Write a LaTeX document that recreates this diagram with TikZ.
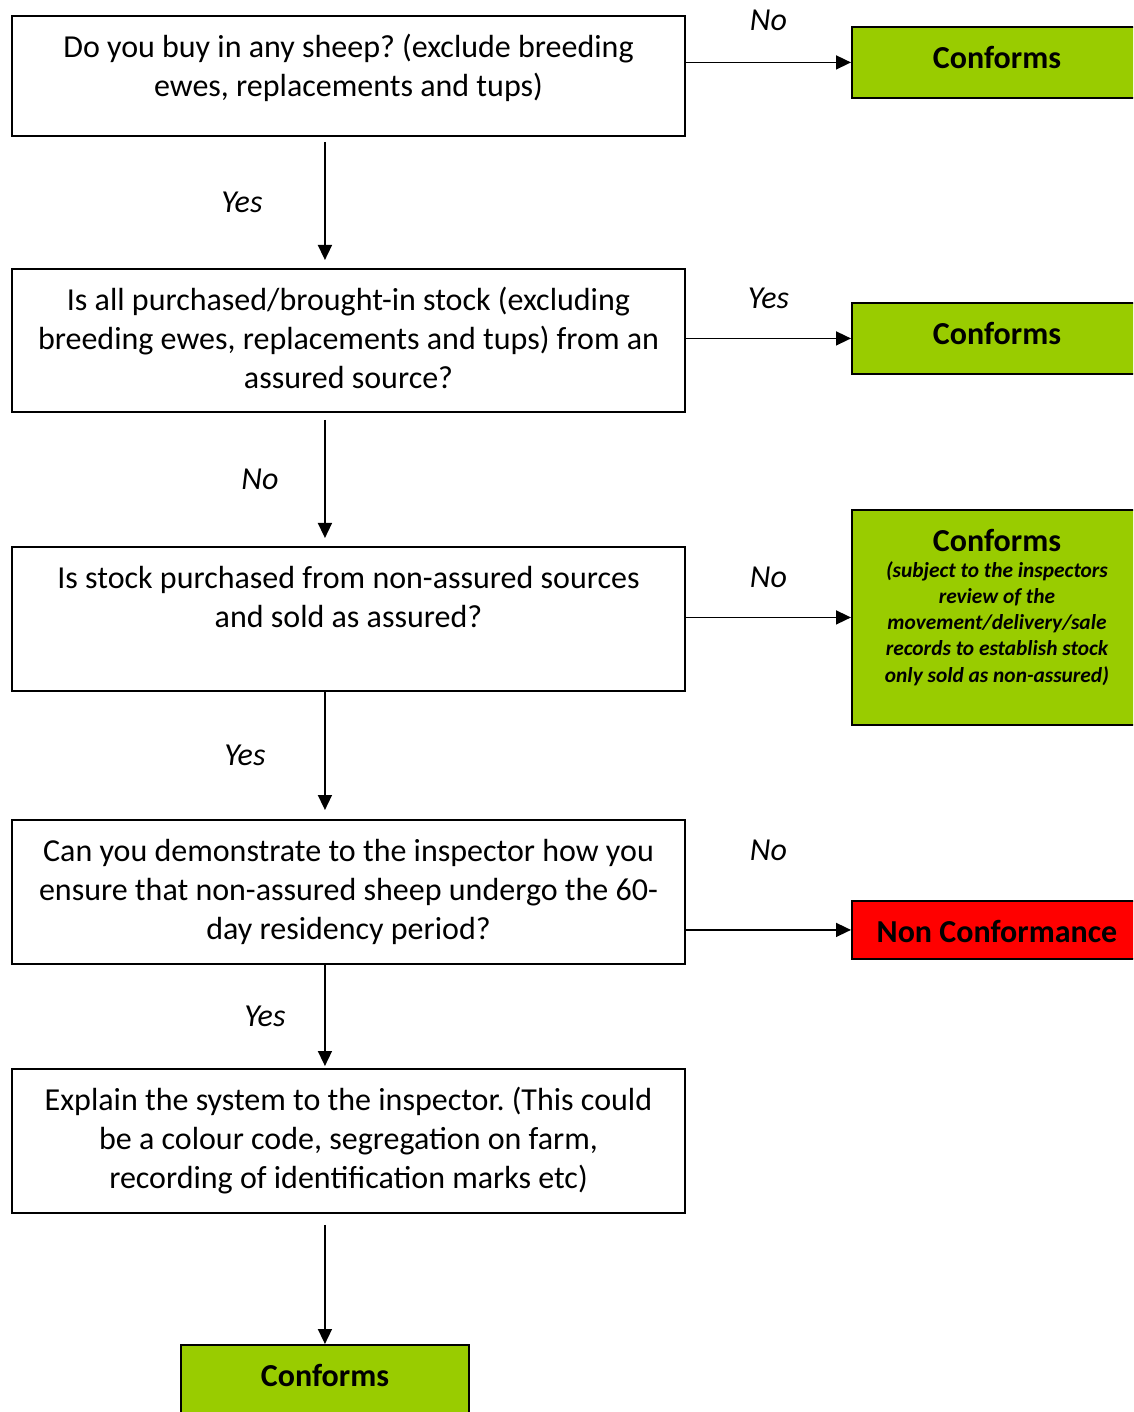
\documentclass[tikz,border=0pt]{standalone}
\usepackage{fontspec}
\setmainfont{Carlito}
\usetikzlibrary{positioning,arrows.meta}
\definecolor{okgreen}{RGB}{153,204,0}
\definecolor{ncred}{RGB}{255,0,0}
\newcommand{\boxfont}{\fontsize{22.76}{27.74}\selectfont\frenchspacing}
\newcommand{\notefont}{\fontsize{15.2}{18.5}\selectfont}

\begin{document}
\begin{tikzpicture}[x=0.025cm,y=-0.025cm,font=\boxfont,
	>={Triangle[length=0.375cm,width=0.35cm]},
	question/.style={draw,line width=1.3pt,anchor=north west,align=flush center,text width=16.425cm,
		inner xsep=0.2cm,inner ysep=0.2cm,text height=0.85cm},
	result/.style={draw,line width=1.3pt,fill=okgreen,anchor=north west,minimum width=7.25cm,
		inner ysep=0.2cm,text height=0.85cm,font=\boxfont\bfseries},
	answer/.style={font=\boxfont\itshape},
	flow/.style={line width=1.1pt}]
	\path[use as bounding box,clip] (0,0) rectangle (1133,1412);
	\node[question,text depth=1.75cm] (buy) at (11,15) {Do you buy in any sheep? (exclude breeding\\ ewes, replacements and tups)};
	\node[question,text depth=2.325cm] (assured) at (11,268) {Is all purchased/brought-in stock (excluding\\ breeding ewes, replacements and tups) from an\\ assured source?};
	\node[question,text depth=2.35cm] (nonassured) at (11,546) {Is stock purchased from non-assured sources\\ and sold as assured?};
	\node[question,text depth=2.35cm] (residency) at (11,819) {Can you demonstrate to the inspector how you\\ ensure that non-assured sheep undergo the 60-\\ day residency period?};
	\node[question,text depth=2.35cm] (explain) at (11,1068) {Explain the system to the inspector. (This could\\ be a colour code, segregation on farm,\\ recording of identification marks etc)};
	\node[result,text depth=0.525cm] (conf1) at (851,26) {Conforms};
	\node[result,text depth=0.525cm] (conf2) at (851,302) {Conforms};
	\node[result,text depth=4.125cm,text width=6.25cm,inner xsep=0.5cm,align=flush center] (conf3) at (851,509)
		{Conforms\\{\notefont\itshape (subject to the inspectors\\ review of the\\ movement/delivery/sale\\ records to establish stock\\ only sold as non-assured)\par}};
	\node[result,fill=ncred,text depth=0.2cm] (noconf) at (851,900) {Non Conformance};
	\node[result,text depth=0.525cm,minimum width=7.2cm] (conf5) at (180,1344) {Conforms};
	\path[->,flow]
	(buy.east |- conf1) edge node[answer,yshift=1.05cm] {No} (conf1)
	(assured.east |- conf2) edge node[answer,yshift=1cm] {Yes} (conf2)
	(nonassured.east |- conf3) edge node[answer,yshift=1cm] {No} (conf3)
	(residency.east |- noconf) edge node[answer,yshift=2cm] {No} (noconf)
	(buy.south -| conf5) edge[shorten <=0.125cm,shorten >=0.2cm] node[answer,xshift=-2.075cm] {Yes} (assured.north -| conf5)
	(assured.south -| conf5) edge[shorten <=0.175cm,shorten >=0.2cm] node[answer,xshift=-1.625cm] {No} (nonassured.north -| conf5)
	(nonassured.south -| conf5) edge[shorten >=0.225cm] node[answer,xshift=-2cm] {Yes} (residency.north -| conf5)
	(residency.south -| conf5) edge[shorten >=0.05cm] node[answer,xshift=-1.5cm] {Yes} (explain.north -| conf5)
	(explain.south -| conf5) edge[shorten <=0.275cm] (conf5);
\end{tikzpicture}
\end{document}
